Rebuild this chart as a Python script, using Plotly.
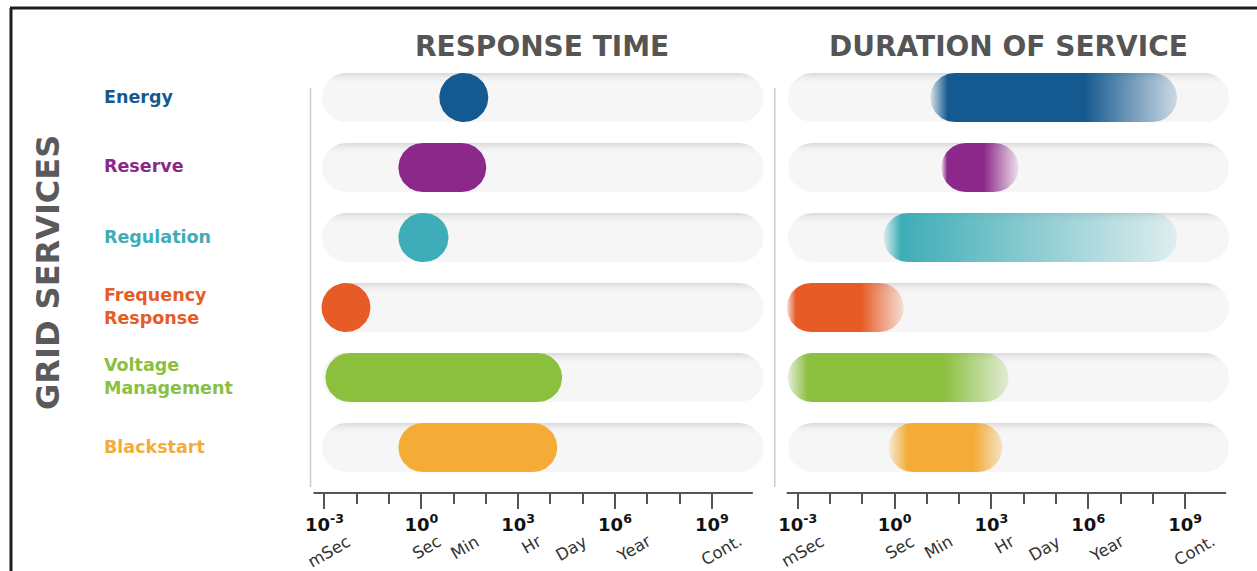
import numpy as np
import plotly.graph_objects as go

# ---- data (times as log10 of seconds) ----
services = ["Energy", "Reserve", "Regulation", "Frequency\nResponse", "Voltage\nManagement", "Blackstart"]
service_colors = ["#14598f", "#8c2889", "#3eadb7", "#e75b27", "#8bc03f", "#f4ab38"]

resp_lo = [0.56, -0.71, -0.71, -3.09, -2.97, -0.71]
resp_hi = [2.07, 2.01, 0.84, -1.58, 4.36, 4.21]

dur_lo = [1.11, 1.45, -0.34, -3.34, -3.31, -0.19]
dur_hi = [8.75, 3.84, 8.75, 0.28, 3.53, 3.34]
dur_solid_from = [1.64, 1.62, 0.19, -3.06, -2.69, 0.40]
dur_solid_to = [5.85, 2.75, 0.19, -1.05, 1.52, 2.44]
dur_edge_alpha = [0.18, 0.10, 0.12, 0.15, 0.18, 0.25]

track_lo = [-3.08, -3.30]
track_hi = [10.60, 10.36]

major_ticks = [-3, 0, 3, 6, 9]
major_text = ["10<sup>-3</sup>", "10<sup>0</sup>", "10<sup>3</sup>", "10<sup>6</sup>", "10<sup>9</sup>"]
minor_ticks = [-2, -1, 1, 2, 4, 5, 7, 8]
axis_span = [-3.34, 10.27]

unit_names = ["mSec", "Sec", "Min", "Hr", "Day", "Year", "Cont."]
unit_pos = [-2.85, 0.17, 1.35, 3.42, 4.65, 6.59, 9.30]

panel_titles = ["RESPONSE TIME", "DURATION OF SERVICE"]

# ---- layout geometry ----
W, H = 1257, 571
X_RANGE = [-3.557, 10.826]
PANEL_PX = [(305, 770), (779, 1244)]
PLOT_TOP, PLOT_BOTTOM = 62, 493
Y_RANGE = [5.65, -0.507]
KX = (PANEL_PX[0][1] - PANEL_PX[0][0]) / (X_RANGE[1] - X_RANGE[0])
KY = (PLOT_BOTTOM - PLOT_TOP) / (Y_RANGE[0] - Y_RANGE[1])
R_PX = 24.5


def pill(x0, x1, yc, r_px=R_PX, n=40):
    rx, ry = r_px / KX, r_px / KY
    cl, cr = x0 + rx, x1 - rx
    if cr < cl:
        cl = cr = (x0 + x1) / 2
    a = np.linspace(-np.pi / 2, np.pi / 2, n)
    xs = np.concatenate([cr + rx * np.cos(a), cl - rx * np.cos(a)])
    ys = np.concatenate([yc + ry * np.sin(a), yc - ry * np.sin(a)])
    return np.append(xs, xs[0]), np.append(ys, ys[0])


def rgba(hexc, a):
    h = hexc.lstrip("#")
    r, g, b = int(h[0:2], 16), int(h[2:4], 16), int(h[4:6], 16)
    return f"rgba({r},{g},{b},{a})"


fig = go.Figure()

# background tracks
for p, xa in enumerate(["x", "x2"]):
    for i in range(len(services)):
        xs, ys = pill(track_lo[p], track_hi[p], i)
        ry = R_PX / KY
        fig.add_trace(go.Scatter(
            x=xs, y=ys, xaxis=xa, yaxis="y", mode="lines", line=dict(width=0),
            fill="toself", fillcolor="#f6f6f6",
            fillgradient=dict(type="vertical", start=i - ry, stop=i + ry,
                              colorscale=[[0, "#dadada"], [0.1, "#efefef"], [0.2, "#f6f6f6"], [1, "#f6f6f6"]]),
            hoverinfo="skip", showlegend=False))

# response-time pills
for i, c in enumerate(service_colors):
    xs, ys = pill(resp_lo[i], resp_hi[i], i)
    fig.add_trace(go.Scatter(x=xs, y=ys, xaxis="x", yaxis="y", mode="lines", line=dict(width=0),
                             fill="toself", fillcolor=c, hoverinfo="skip", showlegend=False))

# duration pills with faded ends
for i, c in enumerate(service_colors):
    xs, ys = pill(dur_lo[i], dur_hi[i], i)
    span = dur_hi[i] - dur_lo[i]
    f1 = (dur_solid_from[i] - dur_lo[i]) / span
    f2 = max((dur_solid_to[i] - dur_lo[i]) / span, f1 + 1e-3)
    cs = [[0, rgba(c, 0.15)], [f1, rgba(c, 1)], [f2, rgba(c, 1)], [1, rgba(c, dur_edge_alpha[i])]]
    fig.add_trace(go.Scatter(x=xs, y=ys, xaxis="x2", yaxis="y", mode="lines", line=dict(width=0),
                             fill="toself", fillcolor=c,
                             fillgradient=dict(type="horizontal", start=dur_lo[i], stop=dur_hi[i], colorscale=cs),
                             hoverinfo="skip", showlegend=False))

FONT = "DejaVu Sans"
xaxis_common = dict(
    range=X_RANGE, showgrid=False, zeroline=False, showline=False, fixedrange=True,
    tickmode="array", tickvals=major_ticks, ticktext=major_text,
    ticks="outside", ticklen=15, tickwidth=2, tickcolor="#555555",
    tickfont=dict(family=FONT, size=18, color="#111111", weight="bold"),
    minor=dict(tickvals=minor_ticks, ticks="outside", ticklen=10, tickwidth=1.5, tickcolor="#555555"),
)
fig.update_layout(
    width=W, height=H, margin=dict(l=0, r=0, t=0, b=0),
    paper_bgcolor="white", plot_bgcolor="white",
    xaxis=dict(domain=[PANEL_PX[0][0] / W, PANEL_PX[0][1] / W], anchor="y", **xaxis_common),
    xaxis2=dict(domain=[PANEL_PX[1][0] / W, PANEL_PX[1][1] / W], anchor="y", **xaxis_common),
    yaxis=dict(domain=[1 - PLOT_BOTTOM / H, 1 - PLOT_TOP / H], range=Y_RANGE, showgrid=False,
               zeroline=False, showticklabels=False, fixedrange=True),
)

shapes = []
# axis baselines
for xr in ["x", "x2"]:
    shapes.append(dict(type="line", xref=xr, yref="paper", x0=axis_span[0], x1=axis_span[1],
                       y0=1 - PLOT_BOTTOM / H, y1=1 - PLOT_BOTTOM / H, line=dict(color="#555555", width=2)))
# panel separators
for px in [309, 774]:
    shapes.append(dict(type="line", xref="paper", yref="paper", x0=px / W, x1=px / W,
                       y0=1 - 487 / H, y1=1 - 88 / H, line=dict(color="#cccccc", width=1.5)))
# frame
shapes.append(dict(type="line", xref="paper", yref="paper", x0=8 / W, x1=1, y0=1 - 8 / H, y1=1 - 8 / H,
                   line=dict(color="#1e1e1e", width=3)))
shapes.append(dict(type="line", xref="paper", yref="paper", x0=9 / W, x1=9 / W, y0=0, y1=1 - 8 / H,
                   line=dict(color="#1e1e1e", width=3)))
fig.update_layout(shapes=shapes)

ann = []
# panel titles
for cx, t in zip([541, 1008], panel_titles):
    ann.append(dict(xref="paper", yref="paper", x=cx / W, y=1 - 46 / H,
                    text=t, showarrow=False, xanchor="center", yanchor="middle",
                    font=dict(family=FONT, size=28, color="#555555", weight="bold")))
# unit labels
for xr in ["x", "x2"]:
    for name, pos in zip(unit_names, unit_pos):
        ann.append(dict(xref=xr, yref="paper", x=pos, y=1 - 529 / H, text=name, showarrow=False,
                        textangle=-30, xanchor="center", yanchor="top",
                        font=dict(family=FONT, size=16.5, color="#333333")))
# row labels
for i, (name, c) in enumerate(zip(services, service_colors)):
    ann.append(dict(xref="paper", yref="paper", x=100 / W, y=1 - (96.5 + 70 * i) / H,
                    text=name.replace("\n", "<br>"), showarrow=False,
                    xanchor="left", yanchor="middle", align="left",
                    font=dict(family=FONT, size=17.5, color=c, weight="bold")))
# vertical heading
ann.append(dict(xref="paper", yref="paper", x=46 / W, y=1 - 272 / H, text="GRID SERVICES", showarrow=False,
                textangle=-90, xanchor="center", yanchor="middle",
                font=dict(family=FONT, size=32, color="#5a5a5a", weight="bold")))
fig.update_layout(annotations=ann)

fig.write_html("out.html")
